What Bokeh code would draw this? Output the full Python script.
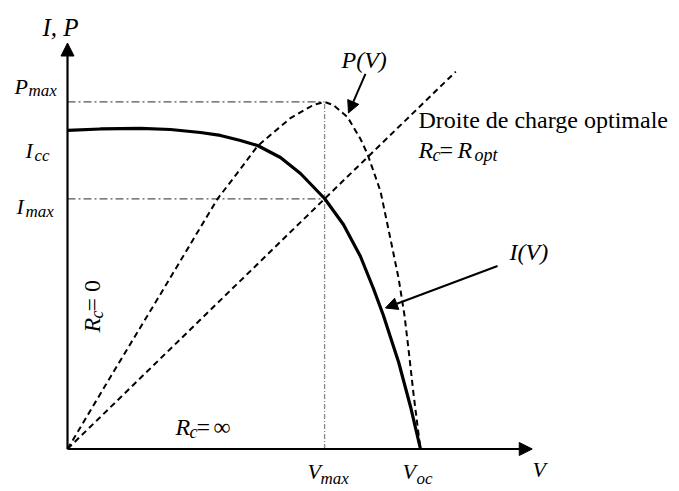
from math import pi

from bokeh.embed import file_html
from bokeh.models import Arrow, Label, NormalHead, Range1d
from bokeh.plotting import figure
from bokeh.resources import INLINE

# Characteristic points of the cell
v_oc = 0.600
v_max = 0.437
i_cc = 3.00
i_max = 2.36
p_max = 1.031

# I(V) characteristic
iv_v = [0.000, 0.056, 0.124, 0.175, 0.226, 0.260, 0.294, 0.323, 0.362, 0.396,
        0.437, 0.469, 0.498, 0.520, 0.537, 0.563, 0.583, 0.600]
iv_i = [3.005, 3.019, 3.024, 3.014, 2.986, 2.958, 2.910, 2.863, 2.750, 2.599,
        2.363, 2.118, 1.816, 1.514, 1.259, 0.816, 0.401, 0.000]

# P(V) characteristic
pv_v = [0.000, 0.073, 0.158, 0.255, 0.294, 0.323, 0.379, 0.418, 0.437, 0.452,
        0.476, 0.498, 0.510, 0.532, 0.549, 0.563, 0.573, 0.581, 0.588, 0.595,
        0.600]
pv_p = [0.000, 0.214, 0.460, 0.743, 0.832, 0.900, 0.983, 1.022, 1.031, 1.022,
        0.986, 0.921, 0.876, 0.766, 0.624, 0.505, 0.395, 0.276, 0.166, 0.068,
        0.000]

# Optimal load line through the maximum power point
load_v = [0.0, 0.437, 0.660]
load_i = [0.0, 2.360, 3.560]

W, H = 679, 491
FONT = "Liberation Serif"

p = figure(width=W, height=H, output_backend="svg", toolbar_location=None,
           x_range=Range1d(-0.1139, 1.0403), y_range=Range1d(-0.401, 4.231),
           x_axis_location=None, y_axis_location=None, min_border=0)
p.extra_y_ranges = {"p": Range1d(-0.1263, 1.3324)}
p.grid.visible = False
p.outline_line_color = None
p.background_fill_color = "white"

# guide lines to the maximum power point
p.line([0, v_max], [p_max, p_max], y_range_name="p", line_color="#555555",
       line_width=1.2, line_dash="8 3 2 3")
p.line([0, v_max], [i_max, i_max], line_color="#555555",
       line_width=1.3, line_dash="8 3 2 3")
p.line([v_max, v_max], [0, p_max], y_range_name="p", line_color="#888888",
       line_width=1.3, line_dash="5 2 1 2")

# P(V) and load line (dashed)
p.line(pv_v, pv_p, y_range_name="p", line_color="black", line_width=2,
       line_dash="6 4")
p.line(load_v, load_i, line_color="black", line_width=2, line_dash="6 4")

# I(V)
p.line(iv_v, iv_i, line_color="black", line_width=3.2, line_join="round")


def head(size):
    return NormalHead(size=size, fill_color="black", line_color="black", line_width=1)


# axes with arrow heads
p.add_layout(Arrow(end=head(13), x_start=0, y_start=0, x_end=0.790, y_end=0,
                   line_width=2.2, line_color="black"))
p.add_layout(Arrow(end=head(13), x_start=0, y_start=0, x_end=0, y_end=3.830,
                   line_width=2.2, line_color="black"))

# pointers to the curves
p.add_layout(Arrow(end=head(12), x_start=0.5065, y_start=3.538, x_end=0.4776,
                   y_end=3.170, line_width=2, line_color="black"))
p.add_layout(Arrow(end=head(12), x_start=0.731, y_start=1.726, x_end=0.5405,
                   y_end=1.330, line_width=2, line_color="black"))

# Label places its anchor slightly below the glyph baseline; compensate here
LIFT = 9


def put(txt, x, y, size, italic=True, angle=0.0):
    """Place text with its baseline-left corner near (x, y), y measured from the top."""
    if angle:
        x, y = x - LIFT, y
    else:
        y = y - LIFT
    p.add_layout(Label(x=x, y=H - y, x_units="screen", y_units="screen", text=txt,
                       text_font=FONT, text_font_size=f"{size}px",
                       text_font_style="italic" if italic else "normal",
                       text_baseline="alphabetic", text_align="left",
                       text_color="black", angle=angle))


MAIN, SUB, BIG, BSUB = 22, 17, 24, 18

# axis titles
put("I, P", 42, 36, 25)
put("V", 532, 478, MAIN)

# y-axis marks
put("P", 14, 95, MAIN)
put("max", 28, 99, SUB)
put("I", 25, 159, MAIN)
put("cc", 34, 164, SUB)
put("I", 16, 215, MAIN)
put("max", 25, 220, SUB)

# x-axis marks
put("V", 307, 480, MAIN)
put("max", 320, 487, SUB)
put("V", 402, 480, MAIN)
put("oc", 416, 487, SUB)

# curve names
put("P(V)", 341, 68, BIG)
put("I(V)", 509, 260, BIG)

# load line caption
put("Droite de charge optimale", 418, 128, BIG, italic=False)
put("R", 418, 158, BIG)
put("c", 432, 163, BSUB)
put("=", 439, 158, BIG, italic=False)
put("R", 457, 158, BIG)
put("opt", 474, 163, BSUB)

# limiting loads
put("R", 175, 435, BIG)
put("c", 189, 440, BSUB)
put("=", 196, 435, BIG, italic=False)
put("\u221e", 213, 435, BIG, italic=False)

put("R", 100, 332, BIG, angle=pi / 2)
put("c", 105, 318, BSUB, angle=pi / 2)
put("= 0", 100, 311, BIG, italic=False, angle=pi / 2)

open("out.html", "w").write(file_html(p, INLINE))
